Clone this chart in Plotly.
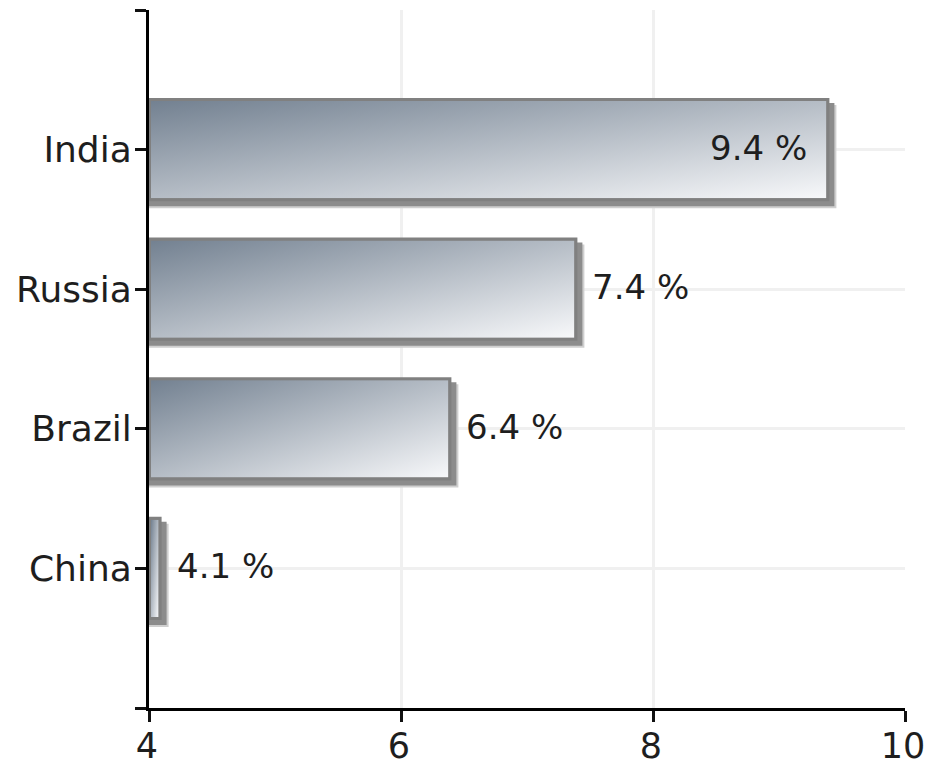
import base64
import plotly.graph_objects as go

# ---- data ----
countries = ["China", "Brazil", "Russia", "India"]
values = [4.1, 6.4, 7.4, 9.4]
label_inside = [False, False, False, True]
x_ticks = [4, 6, 8, 10]

# ---- geometry / style helpers (px -> data units) ----
X_MIN, X_MAX = 4, 10
Y_MIN, Y_MAX = -1, 4
W, H = 926, 768
ML, MR, MT, MB = 149, 21, 10, 60
px_x = (X_MAX - X_MIN) / (W - ML - MR)
px_y = (Y_MAX - Y_MIN) / (H - MT - MB)
BAR_W = 0.74
FONT = "DejaVu Sans"
TXT = "#1e1e1e"

pos = list(range(len(countries)))

svg = ("<svg xmlns='http://www.w3.org/2000/svg' width='100' height='100' viewBox='0 0 100 100' "
       "preserveAspectRatio='none'><defs><linearGradient id='g' x1='0' y1='0' x2='1' y2='1'>"
       "<stop offset='0' stop-color='#738191'/><stop offset='1' stop-color='#f7f8fa'/>"
       "</linearGradient></defs><rect width='100' height='100' fill='url(#g)'/></svg>")
src = "data:image/svg+xml;base64," + base64.b64encode(svg.encode()).decode()

fig = go.Figure()

# soft outer shadow
fig.add_trace(go.Bar(
    y=pos, x=[v + 7 * px_x for v in values], orientation="h", width=BAR_W,
    offset=-BAR_W / 2 - 7 * px_y, marker=dict(color="#cfcfcf", line=dict(width=0)),
    hoverinfo="skip", showlegend=False))
# inner shadow
fig.add_trace(go.Bar(
    y=pos, x=[v + 5 * px_x for v in values], orientation="h", width=BAR_W,
    offset=-BAR_W / 2 - 5 * px_y, marker=dict(color="#8c8c8c", line=dict(width=0)),
    hoverinfo="skip", showlegend=False))
# bar (border colour; gradient image covers interior)
fig.add_trace(go.Bar(
    y=pos, x=values, orientation="h", width=BAR_W,
    marker=dict(color="#808080", line=dict(width=0)),
    hoverinfo="skip", showlegend=False))

images = []
annotations = []
inset = 3
for p, v, inside in zip(pos, values, label_inside):
    images.append(dict(
        source=src, xref="x", yref="y",
        x=X_MIN + 2 * px_x, y=p + BAR_W / 2 - inset * px_y,
        sizex=(v - X_MIN) - 2 * px_x - inset * px_x,
        sizey=BAR_W - 2 * inset * px_y,
        xanchor="left", yanchor="top", sizing="stretch", layer="above"))
    annotations.append(dict(
        x=v, y=p, xref="x", yref="y", text=f"{v} %", showarrow=False,
        xanchor="right" if inside else "left",
        xshift=-20 if inside else 13, yshift=2,
        font=dict(family=FONT, size=34, color=TXT)))

axis_common = dict(
    showgrid=True, gridcolor="#f0f0f0", gridwidth=2.5,
    showline=True, linecolor="black", linewidth=3,
    ticks="outside", ticklen=11, tickwidth=3, tickcolor="#111",
    zeroline=False, fixedrange=True, automargin=False)

fig.update_layout(
    width=W, height=H, barmode="overlay",
    margin=dict(l=ML, r=MR, t=MT, b=MB, autoexpand=False),
    paper_bgcolor="white", plot_bgcolor="white",
    images=images, annotations=annotations,
    font=dict(family=FONT, size=34, color=TXT),
    xaxis=dict(range=[X_MIN, X_MAX], tickvals=x_ticks, ticktext=[str(t) for t in x_ticks],
               ticklabeloverflow="allow", ticklabelstandoff=-6, ticklabelshift=-2,
               tickfont=dict(family=FONT, size=35, color=TXT), **axis_common),
    yaxis=dict(range=[Y_MIN, Y_MAX], tickvals=[-1] + pos + [4],
               ticktext=[""] + countries + [""], ticklabelstandoff=-4,
               tickfont=dict(family=FONT, size=36, color=TXT), **axis_common),
)

fig.write_html("out.html", post_script="document.body.style.margin='0';",
               config={"displayModeBar": False})
